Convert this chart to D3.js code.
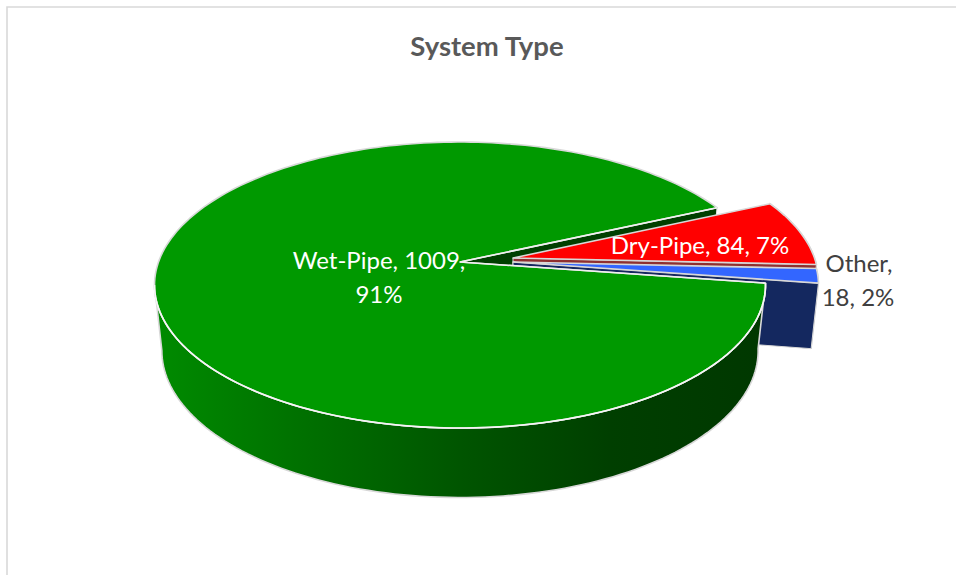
<!DOCTYPE html>
<html><head><meta charset="utf-8">
<script src="https://cdnjs.cloudflare.com/ajax/libs/d3/7.8.5/d3.min.js"></script>
<style>html,body{margin:0;padding:0;background:#fff}svg{display:block}text{font-family:Lato,"Open Sans",sans-serif}</style>
</head><body><svg id="c" width="956" height="575"></svg>
<script>
const categories = ["Wet-Pipe", "Dry-Pipe", "Other"];
const values = [1009, 84, 18];
const percentLabels = ["91%", "7%", "2%"];
const topColors = ["#009900", "#ff0000", "#3366ff"];
const faceColors = ["#003f00", "#8f2f2f", "#14285f"];
const chartTitle = "System Type";

const W = 956, H = 575;
const svg = d3.select("#c");
const defs = svg.append("defs");

const cx = 460, cy = 262, rx = 301.5, ry = 139.3, k = 0.161;
const baseSx = 0.976, baseSy = 1.027, depth = 65;
const startDeg = 8.5;
const toRad = Math.PI / 180;

// d3.pie angles: measured clockwise on the screen, starting at the lower edge of the big slice
const pie = d3.pie().sort(null).value(d => d).startAngle(startDeg * toRad).endAngle((startDeg + 360) * toRad);
const slices = pie(values);
const explode = [[0, 0], [53, -4], [53, 0]];

function project(a, r, off, base) {
  const u = r * Math.cos(a), v = r * Math.sin(a), w = 1 - k * v;
  const sx = base ? baseSx : 1, sy = base ? baseSy : 1, d = base ? depth : 0;
  return [cx + off[0] + sx * rx * u / w, cy + off[1] + d + sy * ry * v / w];
}
const line = d3.line();
const samples = (a0, a1) => {
  const n = Math.max(2, Math.ceil(Math.abs(a1 - a0) / (toRad * 1.5)));
  return d3.range(n + 1).map(i => a0 + (a1 - a0) * i / n);
};
const arcPts = (a0, a1, off, base) => samples(a0, a1).map(a => project(a, 1, off, base));
const topPath = (s, off) => line([project(0, 0, off, false), ...arcPts(s.startAngle, s.endAngle, off, false)]) + "Z";
const wallPath = (a0, a1, off) => line([...arcPts(a0, a1, off, false), ...arcPts(a1, a0, off, true)]) + "Z";
const facePath = (a, off) => line([project(0, 0, off, false), project(a, 1, off, false), project(a, 1, off, true), project(0, 0, off, true)]) + "Z";

// frame
svg.append("path").attr("d", `M7 ${H}V7H${W}`).attr("fill", "none").attr("stroke", "#d9d9d9").attr("stroke-width", 1.6);

// title
svg.append("text").attr("x", 487).attr("y", 56).attr("text-anchor", "middle")
  .attr("font-size", 27.5).attr("font-weight", 700).attr("fill", "#595959").text(chartTitle);

// side gradient of the big slice
const grad = defs.append("linearGradient").attr("id", "wall").attr("gradientUnits", "userSpaceOnUse")
  .attr("x1", 160).attr("x2", 760).attr("y1", 0).attr("y2", 0);
[[0, "#008a00"], [0.25, "#006f00"], [0.5, "#005500"], [0.75, "#003f00"], [1, "#003800"]].forEach(s =>
  grad.append("stop").attr("offset", s[0]).attr("stop-color", s[1]));

const edge = "#d8d8d8";
const wet = slices[0];
const leftSilhouette = Math.PI - Math.asin(k);

// cut face of the big slice, seen through the gap
svg.append("path").attr("d", facePath(wet.endAngle, explode[0])).attr("fill", faceColors[0]).attr("stroke", "#e4e4e4").attr("stroke-width", 1);

// exploded slices, back to front
[1, 2].forEach(i => {
  const s = slices[i], off = explode[i];
  svg.append("path").attr("d", wallPath(s.startAngle, s.endAngle, off)).attr("fill", faceColors[i]).attr("stroke", edge).attr("stroke-width", 1.4);
  svg.append("path").attr("d", facePath(s.endAngle, off)).attr("fill", faceColors[i]).attr("stroke", edge).attr("stroke-width", 1);
  svg.append("path").attr("d", topPath(s, off)).attr("fill", topColors[i]).attr("stroke", edge).attr("stroke-width", 1.6).attr("stroke-linejoin", "round");
});

// big slice: wall, then top, then its bright front rim
svg.append("path").attr("d", wallPath(wet.startAngle, leftSilhouette, explode[0]))
  .attr("fill", "url(#wall)").attr("stroke", edge).attr("stroke-width", 1.6);
svg.append("path").attr("d", topPath(wet, explode[0])).attr("fill", topColors[0]).attr("stroke", edge).attr("stroke-width", 1.6).attr("stroke-linejoin", "round");
svg.append("path").attr("d", line(arcPts(wet.startAngle, leftSilhouette, explode[0], false))).attr("fill", "none").attr("stroke", "#f6f6f6").attr("stroke-width", 1.6);
svg.append("path").attr("d", line([project(wet.endAngle, 1, explode[0], false), project(0, 0, explode[0], false), project(wet.startAngle, 1, explode[0], false)])).attr("fill", "none").attr("stroke", "#f0f0f0").attr("stroke-width", 1.6);

// labels
const lbl = (x, y, t, c) => svg.append("text").attr("x", x).attr("y", y).attr("text-anchor", "middle").attr("font-size", 24).attr("fill", c).text(t);
lbl(379, 269, `${categories[0]}, ${values[0]},`, "#fff");
lbl(379, 303, percentLabels[0], "#fff");
lbl(700, 254, `${categories[1]}, ${values[1]}, ${percentLabels[1]}`, "#fff");
lbl(859, 272, `${categories[2]},`, "#404040");
lbl(858, 306, `${values[2]}, ${percentLabels[2]}`, "#404040");
</script></body></html>
